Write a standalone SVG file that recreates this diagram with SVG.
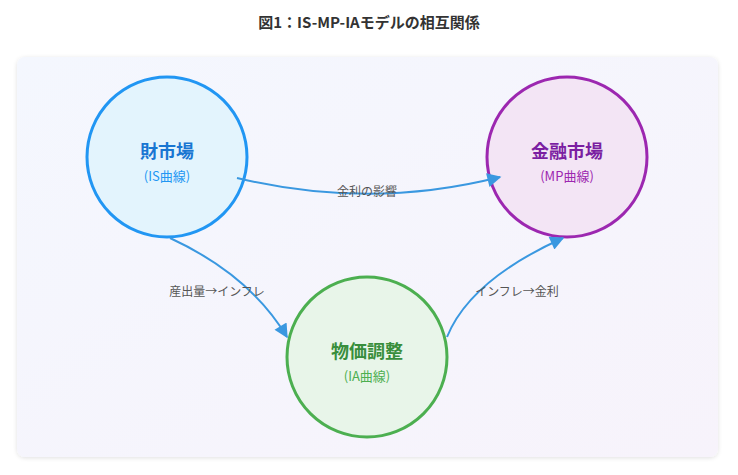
<svg xmlns="http://www.w3.org/2000/svg" width="738" height="475" viewBox="0 0 738 475">
<style>
text{font-family:"Noto Sans CJK JP","Noto Sans",sans-serif;text-anchor:middle}
.t{font-size:18px;font-weight:bold}
.s{font-size:13px}
.l{font-size:12px;fill:#555}
.c{fill:none;stroke:#3a98e0;stroke-width:2;marker-end:url(#a)}
</style>
<defs>
<linearGradient id="bg" x1="0" y1="0" x2="1" y2="1"><stop offset="0" stop-color="#f4f7fe"/><stop offset="1" stop-color="#f7f3fb"/></linearGradient>
<marker id="a" viewBox="0 0 10 10" refX="9" refY="5" markerWidth="18" markerHeight="14" orient="auto" markerUnits="userSpaceOnUse"><path d="M0,0L10,5L0,10z" fill="#3a98e0"/></marker>
<filter id="sh" x="-5%" y="-5%" width="110%" height="110%"><feDropShadow dx="0" dy="1" stdDeviation="2" flood-opacity="0.12"/></filter>
</defs>
<rect width="738" height="475" fill="#fff"/>
<text x="369" y="28" style="font-size:15px;font-weight:bold;fill:#333">図1：IS-MP-IAモデルの相互関係</text>
<rect x="17" y="57" width="701" height="400" rx="8" fill="url(#bg)" filter="url(#sh)"/>
<g id="goods">
<circle cx="167" cy="157" r="80" fill="#e3f4fd" stroke="#2196f3" stroke-width="3"/>
<text class="t" x="167" y="158" fill="#1976d2">財市場</text>
<text class="s" x="167" y="181" fill="#2196f3">(IS曲線)</text>
</g>
<g id="money">
<circle cx="567" cy="157" r="80" fill="#f3e5f5" stroke="#9c27b0" stroke-width="3"/>
<text class="t" x="567" y="158" fill="#7b1fa2">金融市場</text>
<text class="s" x="567" y="181" fill="#9c27b0">(MP曲線)</text>
</g>
<g id="price">
<circle cx="367" cy="357" r="80" fill="#e8f5e9" stroke="#4caf50" stroke-width="3"/>
<text class="t" x="367" y="358" fill="#388e3c">物価調整</text>
<text class="s" x="367" y="381" fill="#4caf50">(IA曲線)</text>
</g>
<g id="connectors">
<path class="c" d="M237,178 Q370,210 500,177"/>
<path class="c" d="M170,238 Q250,275 287,337"/>
<path class="c" d="M447,337 Q470,280 563,238"/>
<text class="l" x="367" y="196">金利の影響</text>
<text class="l" x="217" y="296">産出量→インフレ</text>
<text class="l" x="517" y="296">インフレ→金利</text>
</g>
</svg>
